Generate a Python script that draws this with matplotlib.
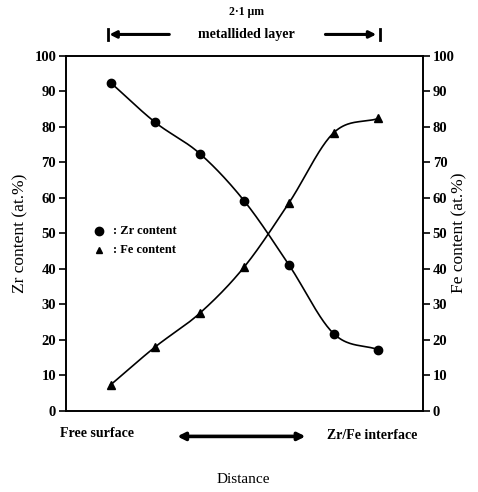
import numpy as np
import matplotlib
matplotlib.use("Agg")
import matplotlib.pyplot as plt

# Data
positions = [1, 2, 3, 4, 5, 6, 7]
zr_content = [92.4, 81.2, 72.4, 59.0, 41.0, 21.7, 17.2]
fe_content = [7.3, 18.0, 27.5, 40.6, 58.6, 78.3, 82.3]
y_ticks = [0, 10, 20, 30, 40, 50, 60, 70, 80, 90, 100]


def smooth(x, y, n=200):
    # Catmull-Rom spline through the points
    x = np.asarray(x, float); y = np.asarray(y, float)
    px = np.concatenate([[2 * x[0] - x[1]], x, [2 * x[-1] - x[-2]]])
    py = np.concatenate([[2 * y[0] - y[1]], y, [2 * y[-1] - y[-2]]])
    xs, ys = [], []
    for i in range(1, len(px) - 2):
        t = np.linspace(0, 1, 40)
        for P, out in ((px, xs), (py, ys)):
            p0, p1, p2, p3 = P[i - 1], P[i], P[i + 1], P[i + 2]
            out.extend(0.5 * ((2 * p1) + (-p0 + p2) * t + (2 * p0 - 5 * p1 + 4 * p2 - p3) * t ** 2
                               + (-p0 + 3 * p1 - 3 * p2 + p3) * t ** 3))
    return np.array(xs), np.array(ys)


serif = "Liberation Serif"
plt.rcParams['font.family'] = [serif, 'DejaVu Serif']

fig = plt.figure(figsize=(4.78, 4.92), dpi=100)
ax = fig.add_axes([0.138, 0.165, 0.747, 0.722])

sx, sy = smooth(positions, zr_content)
ax.plot(sx, sy, color='black', lw=1.2)
ax.plot(positions, zr_content, 'o', color='black', ms=6)
sx, sy = smooth(positions, fe_content)
ax.plot(sx, sy, color='black', lw=1.2)
ax.plot(positions, fe_content, '^', color='black', ms=5.5)

ax.set_xlim(0, 8)
ax.set_ylim(0, 100)
ax.set_xticks([])
ax.set_yticks(y_ticks)
ax.tick_params(axis='y', direction='out', length=5, width=1.2, labelsize=10.5,
               left=True, right=True, labelleft=True, labelright=True, pad=2)
for lab in ax.get_yticklabels():
    lab.set_fontweight('bold')
for s in ax.spines.values():
    s.set_linewidth(1.4)

fig.text(0.042, 0.526, "Zr content (at.%)", rotation=90, fontsize=12.5,
         ha='center', va='center')
fig.text(0.962, 0.526, "Fe content (at.%)", rotation=90, fontsize=12.5,
         ha='center', va='center')

# Legend
ax.plot([0.75], [50.5], 'o', color='black', ms=6)
ax.text(1.05, 50.5, ": Zr content", fontsize=9, fontweight='bold', va='center')
ax.plot([0.75], [45.2], '^', color='black', ms=5)
ax.text(1.05, 45.2, ": Fe content", fontsize=9, fontweight='bold', va='center')

# Top annotation
fig.text(0.515, 0.975, "2·1 μm", fontsize=8.5, fontweight='bold', ha='center', va='center')
fig.text(0.515, 0.930, "metallided layer", fontsize=10, fontweight='bold', ha='center', va='center')
fig.add_artist(matplotlib.patches.FancyArrowPatch((0.36, 0.930), (0.223, 0.930),
               transform=fig.transFigure, arrowstyle='-|>', mutation_scale=10, lw=2.2, color='black'))
fig.add_artist(matplotlib.patches.FancyArrowPatch((0.675, 0.930), (0.793, 0.930),
               transform=fig.transFigure, arrowstyle='-|>', mutation_scale=10, lw=2.2, color='black'))
fig.add_artist(matplotlib.lines.Line2D([0.226, 0.226], [0.918, 0.942], transform=fig.transFigure,
               color='black', lw=2))
fig.add_artist(matplotlib.lines.Line2D([0.795, 0.795], [0.918, 0.942], transform=fig.transFigure,
               color='black', lw=2))

# Bottom annotation
fig.text(0.125, 0.118, "Free surface", fontsize=10, fontweight='bold', ha='left', va='center')
fig.text(0.685, 0.114, "Zr/Fe interface", fontsize=10, fontweight='bold', ha='left', va='center')
fig.add_artist(matplotlib.patches.FancyArrowPatch((0.365, 0.113), (0.645, 0.113),
               transform=fig.transFigure, arrowstyle='<|-|>', mutation_scale=11, lw=2.6, color='black'))
fig.text(0.508, 0.025, "Distance", fontsize=11, ha='center', va='center')

fig.savefig("out.png", dpi=100)
